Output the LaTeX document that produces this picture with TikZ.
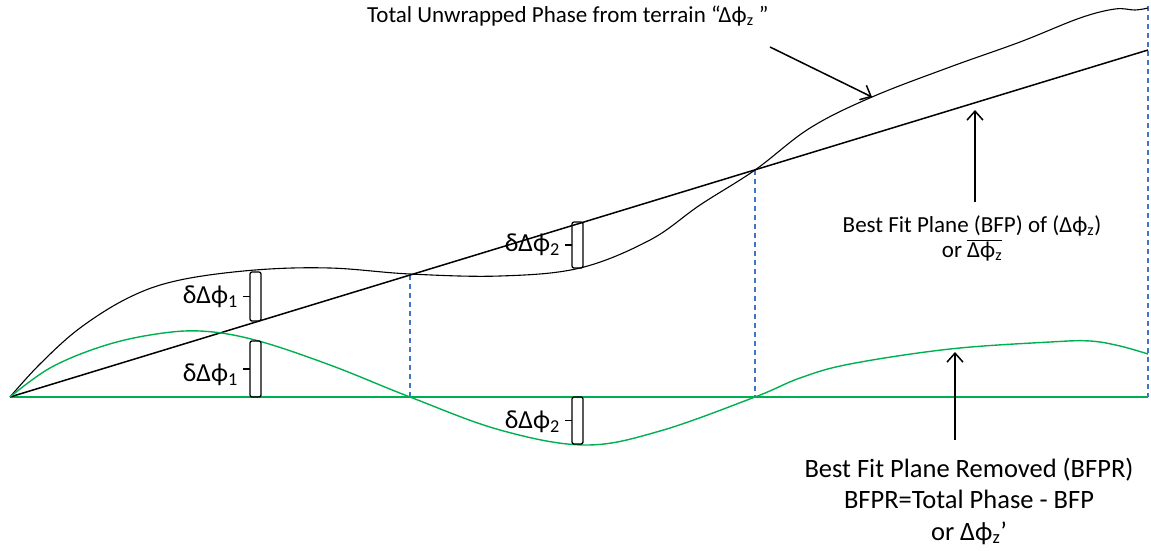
\documentclass[tikz,border=0pt]{standalone}
\usepackage{fontspec}
\setmainfont{Carlito}
\usetikzlibrary{arrows.meta}
\definecolor{verde}{HTML}{00B050}
\definecolor{azul}{HTML}{4472C4}
\newcommand{\dphz}{Δϕ\textsubscript{z}}
% llave: x izquierda, y arriba, y abajo
\newcommand{\llave}[3]{%
  \draw[llv] (#1,#2) rectangle ++(11,#3-#2);
  \draw[llv] (#1,{(#2+#3)/2}) -- ++(-7,0);}

\begin{document}
\begin{tikzpicture}[
    x=1pt, y=-1pt,
    font=\fontsize{23}{28}\selectfont,
    fase/.style={line width=1.1pt, black},
    plano/.style={line width=1.5pt, black},
    bfpr/.style={line width=1.4pt, verde},
    guia/.style={azul, line width=1.1pt, dash pattern=on 5pt off 4pt},
    llv/.style={line width=1.3pt, rounded corners=2pt},
    f/.style={-{Straight Barb[length=9pt,width=16pt]}, line width=1.5pt},
    et/.style={align=center, inner sep=0pt},
    dl/.style={et, anchor=east, font=\fontsize{26}{30}\selectfont},
  ]
  \useasboundingbox (0,0) rectangle (1151,550);

  % --- puntos ---
  \coordinate (o) at (10,397);
  \coordinate (fin) at (1148,50);
  \coordinate (base) at (1148,397);

  % --- guias verticales ---
  \draw[guia] (410,275) -- (410,397);
  \draw[guia] (755,170) -- (755,397);
  \draw[guia] (1148,6) -- (base);

  % --- curvas ---
  \draw[bfpr] (o) -- (base);
  \draw[plano] (o) -- (fin);
  \draw[fase] plot[smooth, tension=0.6] coordinates {
    (10,397) (40,364) (80,328) (130,297) (180,280) (255,270) (330,268)
    (410,274) (500,276) (580,268) (650,240) (700,205) (755,170) (810,128)
    (872,97) (950,67) (1020,42) (1080,18) (1115,9) (1135,10) (1148,8)};
  \draw[bfpr] plot[smooth, tension=0.6] coordinates {
    (10,397) (50,368) (100,347) (150,335) (200,331) (255,340) (330,365)
    (410,397) (500,430) (585,445) (660,431) (755,397) (800,378) (850,364)
    (950,349) (1050,342) (1090,341) (1120,346) (1148,354)};

  % --- llaves ---
  \llave{250}{272}{321}
  \llave{250}{341}{397}
  \llave{572}{222}{268}
  \llave{572}{397}{444}
  \node[dl] (d1a) at (238,297) {δΔϕ\textsubscript{1}};
  \node[dl] (d1b) at (238,375) {δΔϕ\textsubscript{1}};
  \node[dl] (d2a) at (560,245) {δΔϕ\textsubscript{2}};
  \node[dl] (d2b) at (560,422) {δΔϕ\textsubscript{2}};

  % --- rotulos ---
  \node[et, anchor=base west] (total) at (367,22)
    {Total Unwrapped Phase from terrain “\dphz\ ”};
  \node[et, anchor=base] (bfp) at (972,257)
    {Best Fit Plane (BFP) of (\dphz)\\[-3pt] or $\overline{\mbox{\dphz}}$};
  \node[et, anchor=base, font=\fontsize{26.5}{31.5}\selectfont] (rem) at (969,540)
    {Best Fit Plane Removed (BFPR)\\ BFPR=Total Phase - BFP\\ or \dphz’};

  % --- flechas ---
  \coordinate (t0) at (770,47);
  \coordinate (t1) at (872,97);
  \coordinate (b0) at (975,202);
  \coordinate (b1) at (975,110);
  \coordinate (r0) at (955,440);
  \coordinate (r1) at (955,352);
  \draw[f] (t0) -- (t1);
  \draw[f] (b0) -- (b1);
  \draw[f] (r0) -- (r1);
\end{tikzpicture}
\end{document}
